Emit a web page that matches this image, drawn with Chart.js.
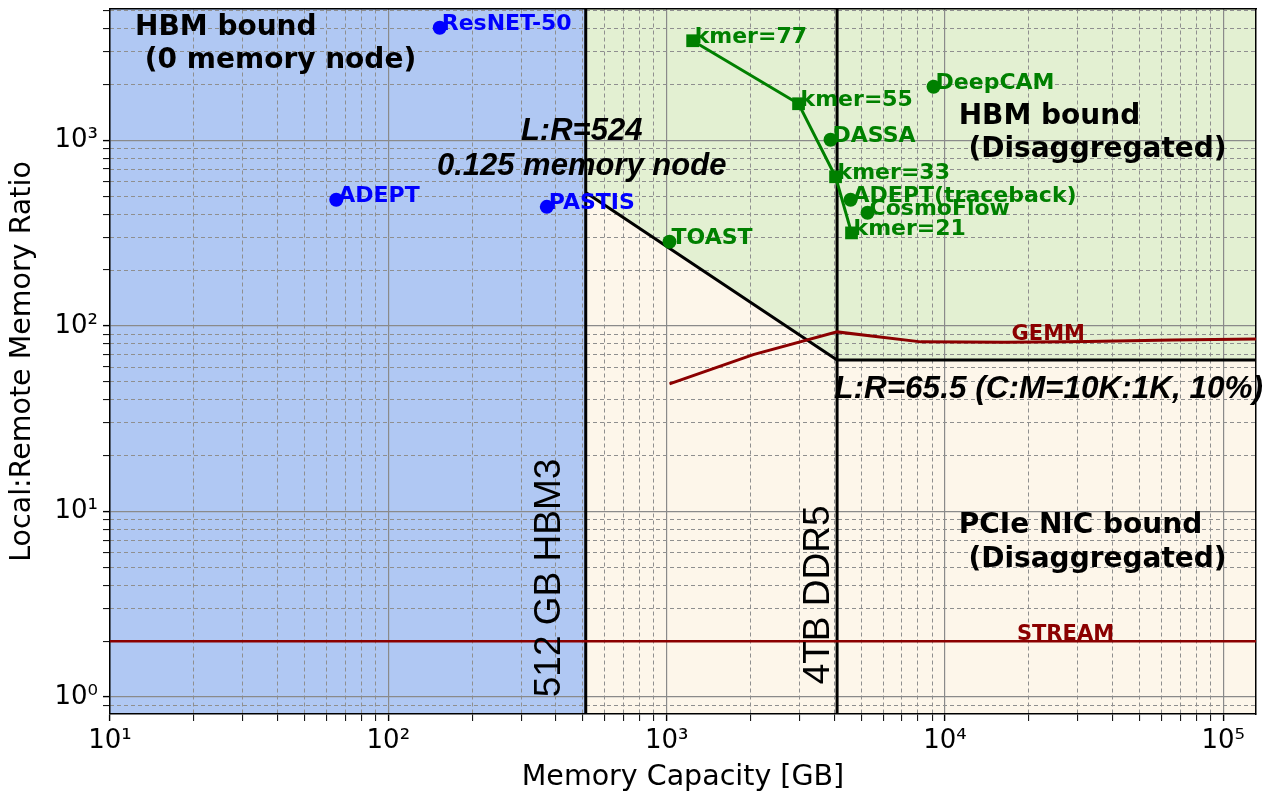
<!DOCTYPE html>
<html>
<head>
<meta charset="utf-8">
<script src="https://cdn.jsdelivr.net/npm/chart.js@4.4.0/dist/chart.umd.min.js"></script>
<style>
  html, body { margin: 0; padding: 0; background: #fff; }
  #wrap { width: 1265px; height: 792px; position: relative; }
</style>
</head>
<body>
<div id="wrap"><canvas id="chart"></canvas></div>
<script>
// axis ranges
const xMin = 10, xMax = 131072;
const yMin = 0.81, yMax = 5100;

// node memory limits and L:R bounds
const hbmCap = 512;
const ddrCap = 4096;
const lrHigh = 524;
const lrLow = 65.5;

// apps that fit in HBM (blue)
const hbmApps = ['ResNET-50', 'ADEPT', 'PASTIS'];
const hbmAppsX = [153, 65, 371];
const hbmAppsY = [4040, 478, 438];

// apps needing disaggregated memory (green)
const disApps = ['TOAST', 'DeepCAM', 'DASSA', 'ADEPT(traceback)', 'CosmoFlow'];
const disAppsX = [1024, 9100, 3880, 4580, 5270];
const disAppsY = [284, 1942, 1006, 478, 407];

// kmer sweep
const kmerLabels = ['kmer=77', 'kmer=55', 'kmer=33', 'kmer=21'];
const kmerX = [1240, 2978, 4045, 4616];
const kmerY = [3440, 1574, 636, 317];

// GEMM and STREAM curves
const gemmX = [1024, 2048, 4096, 8192, 16384, 32768, 65536, 131072];
const gemmY = [48.7, 70, 92.8, 82, 81.5, 82.5, 84, 85];
const streamX = [10, 131072];
const streamY = [2, 2];

// tick labels
const xMajor = [10, 100, 1000, 10000, 100000];
const xTickLabels = ['10¹', '10²', '10³', '10⁴', '10⁵'];
const yMajor = [1, 10, 100, 1000];
const yTickLabels = ['10⁰', '10¹', '10²', '10³'];

const BLUE = '#0000ff', GREEN = '#008000', DARKRED = '#8b0000';

function pts(xs, ys) { return xs.map((x, i) => ({x: x, y: ys[i]})); }

function logTicks(lo, hi) {
  const out = [];
  for (let e = Math.floor(Math.log10(lo)); e <= Math.ceil(Math.log10(hi)); e++) {
    for (let m = 1; m < 10; m++) {
      const v = m * Math.pow(10, e);
      if (v >= lo && v <= hi) out.push(v);
    }
  }
  return out;
}
function isMajor(v) {
  const l = Math.log10(v);
  return Math.abs(l - Math.round(l)) < 1e-9;
}
function labelFor(v, majors, labels) {
  for (let i = 0; i < majors.length; i++) {
    if (Math.abs(majors[i] - v) / majors[i] < 1e-9) return labels[i];
  }
  return '';
}

const xTicks = logTicks(xMin, xMax);
const yTicks = logTicks(yMin, yMax);

const majorGrid = '#8a8a8a';
const minorGrid = '#8f8f8f';
const clear = 'rgba(0,0,0,0)';
const tickFont = {family: 'DejaVu Sans', size: 26};
const titleFont = {family: 'DejaVu Sans', size: 28.5, lineHeight: 1};

// text annotations placed in data coordinates
const notes = [
  {lines: ['HBM bound', ' (0 memory node)'], x: 12.3, y: 3705, lead: 33, font: 'bold 28px "DejaVu Sans"', color: '#000', align: 'left'},
  {lines: ['HBM bound', ' (Disaggregated)'], x: 11200, y: 1227, lead: 33, font: 'bold 28px "DejaVu Sans"', color: '#000', align: 'left'},
  {lines: ['PCIe NIC bound', ' (Disaggregated)'], x: 11200, y: 7.66, lead: 34, font: 'bold 28px "DejaVu Sans"', color: '#000', align: 'left'},
  {lines: ['L:R=524', '0.125 memory node'], x: 495, y: 1006, lead: 35, font: 'italic bold 31px "Liberation Sans"', color: '#000', align: 'center'},
  {lines: ['L:R=65.5 (C:M=10K:1K, 10%)'], x: 4000, y: 40.9, lead: 0, font: 'italic bold 31.5px "Liberation Sans"', color: '#000', align: 'left'},
  {lines: ['GEMM'], x: 23500, y: 84, lead: 0, font: 'bold 21px "DejaVu Sans"', color: DARKRED, align: 'center'},
  {lines: ['STREAM'], x: 27100, y: 2.02, lead: 0, font: 'bold 21px "DejaVu Sans"', color: DARKRED, align: 'center'},
  {lines: ['512 GB HBM3'], x: 380, y: 4.38, lead: 0, font: '37px "Liberation Sans"', color: '#000', align: 'center', rotate: true},
  {lines: ['4TB DDR5'], x: 3515, y: 3.55, lead: 0, font: '37px "Liberation Sans"', color: '#000', align: 'center', rotate: true}
];

const notesPlugin = {
  id: 'notes',
  afterDatasetsDraw(chart) {
    const ctx = chart.ctx;
    const xs = chart.scales.x, ys = chart.scales.y;
    ctx.save();
    // labels next to markers
    chart.data.datasets.forEach((ds, i) => {
      if (!ds.pointLabels) return;
      const meta = chart.getDatasetMeta(i);
      ctx.font = 'bold 22px "DejaVu Sans"';
      ctx.fillStyle = ds.borderColor;
      ctx.textAlign = 'left';
      ctx.textBaseline = 'alphabetic';
      meta.data.forEach((p, j) => ctx.fillText(ds.pointLabels[j], p.x + 2, p.y + 2));
    });
    notes.forEach(n => {
      const px = xs.getPixelForValue(n.x), py = ys.getPixelForValue(n.y);
      ctx.font = n.font;
      ctx.fillStyle = n.color;
      ctx.textAlign = n.align;
      if (n.rotate) {
        ctx.save();
        ctx.translate(px, py);
        ctx.rotate(-Math.PI / 2);
        ctx.textBaseline = 'middle';
        ctx.fillText(n.lines[0], 0, 0);
        ctx.restore();
      } else {
        ctx.textBaseline = 'alphabetic';
        n.lines.forEach((t, k) => ctx.fillText(t, px, py + k * n.lead));
      }
    });
    ctx.restore();
  }
};

const data = {
  datasets: [
    {
      data: pts(kmerX, kmerY), pointLabels: kmerLabels,
      borderColor: GREEN, backgroundColor: GREEN, borderWidth: 3,
      pointStyle: 'rect', pointRadius: 9, pointBorderWidth: 0, order: 0
    },
    {
      data: pts(disAppsX, disAppsY), pointLabels: disApps, showLine: false,
      borderColor: GREEN, backgroundColor: GREEN, pointStyle: 'circle', pointRadius: 7, pointBorderWidth: 0, order: 0
    },
    {
      data: pts(hbmAppsX, hbmAppsY), pointLabels: hbmApps, showLine: false,
      borderColor: BLUE, backgroundColor: BLUE, pointStyle: 'circle', pointRadius: 7, pointBorderWidth: 0, order: 0
    },
    {
      data: pts(gemmX, gemmY), borderColor: DARKRED, borderWidth: 3, pointRadius: 0, order: 1
    },
    {
      data: pts(streamX, streamY), borderColor: DARKRED, borderWidth: 2.5, pointRadius: 0, order: 1
    },
    {
      data: pts([hbmCap, hbmCap], [yMin, yMax]), borderColor: '#000', borderWidth: 3, pointRadius: 0, order: 2
    },
    {
      data: pts([ddrCap, ddrCap], [yMin, yMax]), borderColor: '#000', borderWidth: 3, pointRadius: 0, order: 2
    },
    // regions (filled under the grid)
    {
      data: pts([xMin, hbmCap], [yMax, yMax]), borderWidth: 0, pointRadius: 0,
      fill: 'start', backgroundColor: '#b0c8f3', order: 10
    },
    {
      data: pts([hbmCap, ddrCap, xMax], [lrHigh, lrLow, lrLow]), borderColor: '#000', borderWidth: 3, pointRadius: 0,
      fill: 'start', backgroundColor: '#fdf6ea', order: 20
    },
    {
      data: pts([hbmCap, xMax], [yMax, yMax]), borderWidth: 0, pointRadius: 0,
      fill: 'start', backgroundColor: '#e3f0d2', order: 30
    }
  ]
};

new Chart(document.getElementById('chart'), {
  type: 'line',
  data: data,
  options: {
    responsive: true,
    maintainAspectRatio: false,
    animation: false,
    layout: {padding: {left: 0, right: 8, top: 9, bottom: 0}},
    plugins: {
      legend: {display: false},
      tooltip: {enabled: false},
      filler: {drawTime: 'beforeDraw'}
    },
    scales: {
      x: {
        type: 'logarithmic', position: 'bottom', min: xMin, max: xMax,
        afterBuildTicks: s => { s.ticks = xTicks.map(v => ({value: v})); },
        afterFit: s => { s.height = 78; s.paddingLeft = 0; s.paddingRight = 0; },
        ticks: {autoSkip: false, maxRotation: 0, minRotation: 0, font: tickFont, color: '#000', padding: 5,
                callback: v => labelFor(v, xMajor, xTickLabels)},
        grid: {color: c => (c.tick && isMajor(c.tick.value)) ? majorGrid : clear, lineWidth: 1.2,
               tickLength: 7, tickColor: '#000', tickWidth: c => (c.tick && isMajor(c.tick.value)) ? 1.4 : 1},
        border: {color: '#000', width: 1.5},
        title: {display: true, text: 'Memory Capacity [GB]', font: titleFont, color: '#000', padding: {top: 0, bottom: 0}}
      },
      x2: {
        type: 'logarithmic', axis: 'x', position: 'top', min: xMin, max: xMax,
        afterBuildTicks: s => { s.ticks = xTicks.map(v => ({value: v})); },
        afterFit: s => { s.height = 0; s.paddingLeft = 0; s.paddingRight = 0; },
        ticks: {display: false, autoSkip: false},
        grid: {color: c => (c.tick && !isMajor(c.tick.value)) ? minorGrid : clear, lineWidth: 1, drawTicks: false},
        border: {color: '#000', width: 1.5, dash: [4, 3]}
      },
      y: {
        type: 'logarithmic', position: 'left', min: yMin, max: yMax,
        afterBuildTicks: s => { s.ticks = yTicks.map(v => ({value: v})); },
        afterFit: s => { s.width = 110; s.paddingTop = 0; s.paddingBottom = 0; },
        ticks: {autoSkip: false, font: tickFont, color: '#000', padding: 5,
                callback: v => labelFor(v, yMajor, yTickLabels)},
        grid: {color: c => (c.tick && isMajor(c.tick.value)) ? majorGrid : clear, lineWidth: 1.2,
               tickLength: 7, tickColor: '#000', tickWidth: c => (c.tick && isMajor(c.tick.value)) ? 1.4 : 1},
        border: {color: '#000', width: 1.5},
        title: {display: true, text: 'Local:Remote Memory Ratio', font: titleFont, color: '#000', padding: {top: 8, bottom: 0}}
      },
      y2: {
        type: 'logarithmic', axis: 'y', position: 'right', min: yMin, max: yMax,
        afterBuildTicks: s => { s.ticks = yTicks.map(v => ({value: v})); },
        afterFit: s => { s.width = 0; s.paddingTop = 0; s.paddingBottom = 0; },
        ticks: {display: false, autoSkip: false},
        grid: {color: c => (c.tick && !isMajor(c.tick.value)) ? minorGrid : clear, lineWidth: 1, drawTicks: false},
        border: {color: '#000', width: 1.5, dash: [4, 3]}
      }
    }
  },
  plugins: [notesPlugin]
});
</script>
</body>
</html>
